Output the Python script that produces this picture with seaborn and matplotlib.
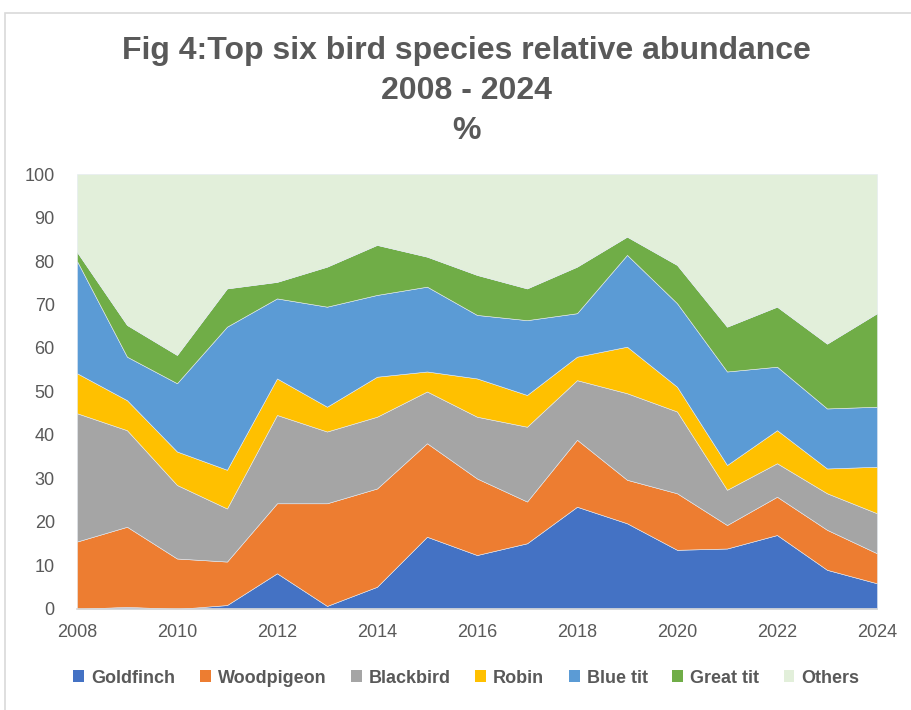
import pandas as pd
import seaborn as sns
import matplotlib.pyplot as plt
from matplotlib.patches import Rectangle, Patch

years = list(range(2008, 2025))
species = ['Goldfinch', 'Woodpigeon', 'Blackbird', 'Robin', 'Blue tit',
           'Great tit', 'Others']

goldfinch = [0, 0.5, 0, 0.9, 8.2, 0.7, 5.1, 16.6, 12.4, 15.1, 23.5, 19.7,
             13.6, 13.9, 17.0, 9.0, 5.9]
woodpigeon = [15.5, 18.4, 11.6, 10.0, 16.1, 23.6, 22.6, 21.5, 17.6, 9.6,
              15.4, 10.0, 13.0, 5.4, 8.8, 9.2, 6.9]
blackbird = [29.5, 22.2, 16.9, 12.2, 20.3, 16.5, 16.5, 11.9, 14.2, 17.2,
             13.7, 19.9, 18.8, 8.1, 7.7, 8.4, 9.2]
robin = [9.2, 6.9, 7.7, 8.9, 8.4, 5.7, 9.2, 4.6, 8.8, 7.3, 5.4, 10.7, 5.7,
         5.7, 7.6, 5.7, 10.7]
blue_tit = [25.8, 10.0, 15.7, 32.9, 18.4, 23.0, 18.8, 19.5, 14.6, 17.2, 10.0,
            21.1, 19.2, 21.5, 14.6, 13.8, 13.8]
great_tit = [2.1, 7.3, 6.5, 8.8, 3.8, 9.2, 11.5, 6.9, 9.2, 7.3, 10.7, 4.2,
             8.8, 10.3, 13.8, 14.9, 21.5]
others = [17.9, 34.7, 41.6, 26.3, 24.8, 21.3, 16.3, 19.0, 23.2, 26.3, 21.3,
          14.4, 20.9, 35.1, 30.5, 39.0, 32.0]

colors = ['#4472C4', '#ED7D31', '#A5A5A5', '#FFC000', '#5B9BD5', '#70AD47',
          '#E2EFDA']
grey = '#595959'

df = pd.DataFrame({'year': years, 'Goldfinch': goldfinch,
                   'Woodpigeon': woodpigeon, 'Blackbird': blackbird,
                   'Robin': robin, 'Blue tit': blue_tit,
                   'Great tit': great_tit, 'Others': others})

sns.set_theme(style='white')
plt.rcParams['font.family'] = ['Liberation Sans', 'DejaVu Sans']

fig = plt.figure(figsize=(9.11, 7.10), dpi=100)
ax = fig.add_axes([0.0845, 0.1423, 0.8782, 0.6126])

ax.stackplot(df['year'], [df[s] for s in species], colors=colors,
             edgecolor='#e4eaf2', linewidth=0.4)

ax.set_xlim(2008, 2024)
ax.set_ylim(0, 100)
ax.set_xticks(range(2008, 2025, 2))
ax.set_xticks(years, minor=True)
ax.set_yticks(range(0, 101, 10))
ax.tick_params(axis='x', which='both', direction='out', length=5, width=0.8,
               color='#BFBFBF', labelsize=13, labelcolor=grey, pad=6)
ax.tick_params(axis='y', length=0, labelsize=13, labelcolor=grey, pad=16)
for side in ['top', 'right', 'left']:
    ax.spines[side].set_visible(False)
ax.spines['bottom'].set_color('#D9D9D9')
ax.set_xlabel('')
ax.set_ylabel('')

title_kw = dict(ha='center', va='center', fontsize=23, fontweight='bold',
                color=grey)
fig.text(0.512, 0.928, 'Fig 4:Top six bird species relative abundance',
         **title_kw)
fig.text(0.512, 0.872, '2008 - 2024', **title_kw)
fig.text(0.512, 0.816, '%', **title_kw)

handles = [Patch(facecolor=c, edgecolor='none') for c in colors]
leg = fig.legend(handles, species, loc='center', ncol=7,
                 bbox_to_anchor=(0.512, 0.045), frameon=False,
                 handlelength=0.6, handleheight=0.6, handletextpad=0.4,
                 columnspacing=1.35, prop={'size': 13, 'weight': 'bold'})
for t in leg.get_texts():
    t.set_color(grey)

fig.patches.append(Rectangle((0.0055, -0.01), 1.0, 0.9917,
                             transform=fig.transFigure, fill=False,
                             edgecolor='#D9D9D9', linewidth=1.2))

fig.savefig('out.png', dpi=100)
